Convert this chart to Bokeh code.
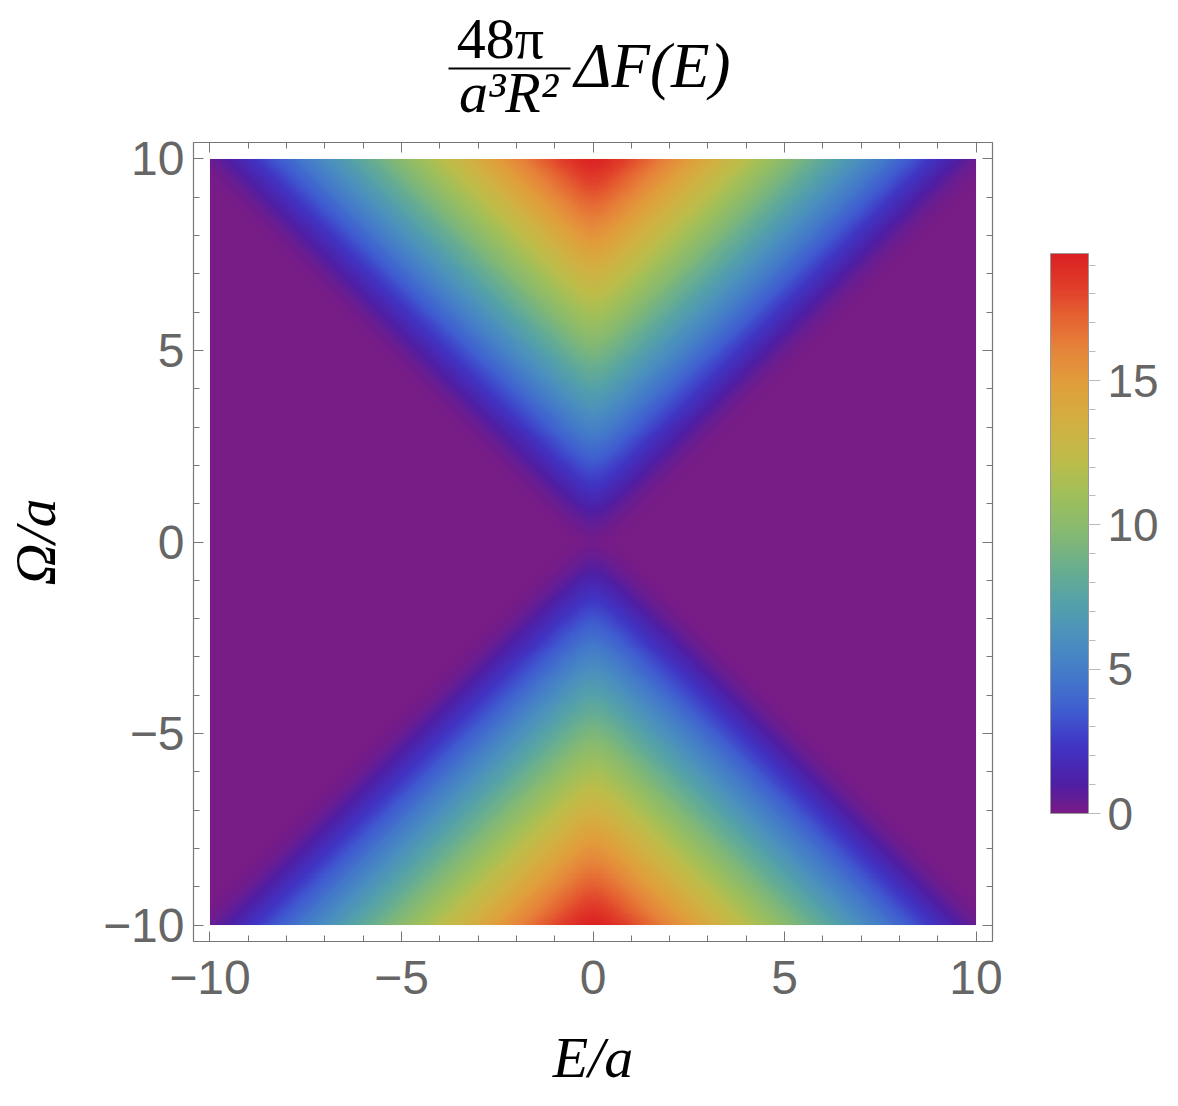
import numpy as np
from bokeh.plotting import figure
from bokeh.layouts import column
from bokeh.models import (LinearColorMapper, ColorBar, SingleIntervalTicker, LinearAxis,
                          CustomJSTickFormatter, Label, Range1d)
from bokeh.embed import file_html
from bokeh.resources import INLINE

# ---------------- values ----------------
e_extent = [-10.0, 10.0]          # E/a range of the density image
omega_extent = [-10.0, 10.0]      # Omega/a range of the density image
frame_extent = [-10.43, 10.43]    # frame padding around the image
ramp_slope = [2.0]                # growth of the value with |Omega|-|E|
edge_softness = [0.3]             # width of the soft edge at |E| = |Omega|
core_radius = [0.35]              # rounding of the cusp at E = 0
value_range = [0.0, 19.4]         # colour-bar range (min, max)
axis_ticks = [-10, -5, 0, 5, 10]
cbar_ticks = [0, 5, 10, 15]

# ---------------- density field ----------------
n = 500
E = np.linspace(e_extent[0], e_extent[1], n)
W = np.linspace(omega_extent[0], omega_extent[1], n)
EE, WW = np.meshgrid(E, W)
d = np.abs(WW) - np.sqrt(EE ** 2 + core_radius[0] ** 2)
Z = (ramp_slope[0] * edge_softness[0] * np.logaddexp(0.0, d / edge_softness[0])).astype(np.float32)

# Mathematica "Rainbow"-like palette (style)
anchors = [(0.00, "#781c86"), (0.05, "#4f1ea4"), (0.12, "#4035c4"), (0.18, "#3f5bd0"),
           (0.24, "#4377cb"), (0.31, "#4a8fbf"), (0.38, "#55a2a8"), (0.44, "#6aaf8e"),
           (0.50, "#85b972"), (0.57, "#a0bf5a"), (0.63, "#bdbd4a"), (0.70, "#d2b042"),
           (0.77, "#e19d3b"), (0.83, "#e6843a"), (0.89, "#e56131"), (0.94, "#e03e2a"),
           (1.00, "#db2122")]
def _rgb(h):
    return np.array([int(h[1:3], 16), int(h[3:5], 16), int(h[5:7], 16)], float)
pos = np.array([a[0] for a in anchors])
cols = np.array([_rgb(a[1]) for a in anchors])
palette = []
for tt in np.linspace(0, 1, 256):
    c = [np.interp(tt, pos, cols[:, k]) for k in range(3)]
    palette.append("#%02x%02x%02x" % tuple(int(round(v)) for v in c))

mapper = LinearColorMapper(palette=palette, low=value_range[0], high=value_range[1])

serif = "Liberation Serif"

# ---------------- title strip (frame aligned with the main frame; units = page px) ----------------
TH = 130
t = figure(width=1178, height=TH, frame_width=799, frame_height=TH,
           x_range=Range1d(190, 989), y_range=Range1d(TH, 0),
           title=None, output_backend="svg", toolbar_location=None,
           min_border_left=190, min_border_right=189, min_border_top=0, min_border_bottom=0,
           x_axis_location=None, y_axis_location=None)
t.grid.visible = False
t.outline_line_color = None
t.add_layout(Label(x=497, y=38, text="48π", text_font=serif, text_font_size="58px",
                   text_align="center", text_baseline="alphabetic", text_color="black"))
t.segment(x0=[445], y0=[68], x1=[567], y1=[68], line_width=2, line_color="black")
t.add_layout(Label(x=505, y=92, text="a³R²", text_font=serif, text_font_size="58px",
                   text_font_style="italic", text_align="center", text_baseline="alphabetic",
                   text_color="black"))
t.add_layout(Label(x=571, y=65, text="ΔF(E)", text_font=serif, text_font_size="63px",
                   text_font_style="italic", text_align="left", text_baseline="alphabetic",
                   text_color="black"))

# ---------------- main figure ----------------
MH = 1104 - TH
top_border = 142 - TH
p = figure(width=1178, height=MH, frame_width=799, frame_height=799,
           x_range=Range1d(*frame_extent), y_range=Range1d(*frame_extent),
           title=None, output_backend="svg", toolbar_location=None,
           min_border_left=190, min_border_right=189, min_border_top=top_border,
           min_border_bottom=MH - top_border - 799)
p.grid.visible = False
p.outline_line_color = "#777777"
p.background_fill_color = "white"

p.image(image=[Z], x=e_extent[0], y=omega_extent[0],
        dw=e_extent[1] - e_extent[0], dh=omega_extent[1] - omega_extent[0],
        color_mapper=mapper)

fmt = CustomJSTickFormatter(code="return tick < 0 ? '\\u2212' + (-tick) : '' + tick;")
blank = CustomJSTickFormatter(code="return '';")

def style_axis(ax, labels=True):
    ax.ticker = SingleIntervalTicker(interval=5, num_minor_ticks=5)
    ax.major_tick_in = 10
    ax.major_tick_out = 0
    ax.minor_tick_in = 6
    ax.minor_tick_out = 0
    ax.axis_line_color = "#777777"
    ax.major_tick_line_color = "#777777"
    ax.minor_tick_line_color = "#777777"
    ax.axis_line_width = 1.2
    if labels:
        ax.formatter = fmt
        ax.major_label_text_font = "Liberation Sans"
        ax.major_label_text_font_size = "48px"
        ax.major_label_text_color = "#666666"
        ax.axis_label_text_font = serif
        ax.axis_label_text_font_style = "italic"
        ax.axis_label_text_font_size = "58px"
        ax.axis_label_text_color = "black"
    else:
        ax.formatter = blank
        ax.major_label_text_font_size = "0px"
        ax.major_label_standoff = 0

style_axis(p.xaxis[0])
style_axis(p.yaxis[0])
p.xaxis[0].major_label_standoff = 19
p.yaxis[0].major_label_standoff = 9
p.xaxis[0].axis_label = "E/a"
p.yaxis[0].axis_label = "Ω/a"
p.xaxis[0].axis_label_standoff = 28
p.yaxis[0].axis_label_standoff = 32

top_ax = LinearAxis()
right_ax = LinearAxis()
style_axis(top_ax, labels=False)
style_axis(right_ax, labels=False)
p.add_layout(top_ax, "above")
p.add_layout(right_ax, "right")

cb = ColorBar(color_mapper=mapper,
              ticker=SingleIntervalTicker(interval=5, num_minor_ticks=5),
              width=38, height=560, padding=0, margin=0, location=(58, 128),
              major_tick_in=0, major_tick_out=12, minor_tick_in=0, minor_tick_out=7,
              major_tick_line_color="#bbbbbb", minor_tick_line_color="#bbbbbb",
              major_label_text_font="Liberation Sans", major_label_text_font_size="46px",
              major_label_text_color="#666666", label_standoff=7,
              bar_line_color="#999999", border_line_color=None)
p.add_layout(cb, "right")

layout = column(t, p, spacing=0)
open("out.html", "w").write(file_html(layout, INLINE))
